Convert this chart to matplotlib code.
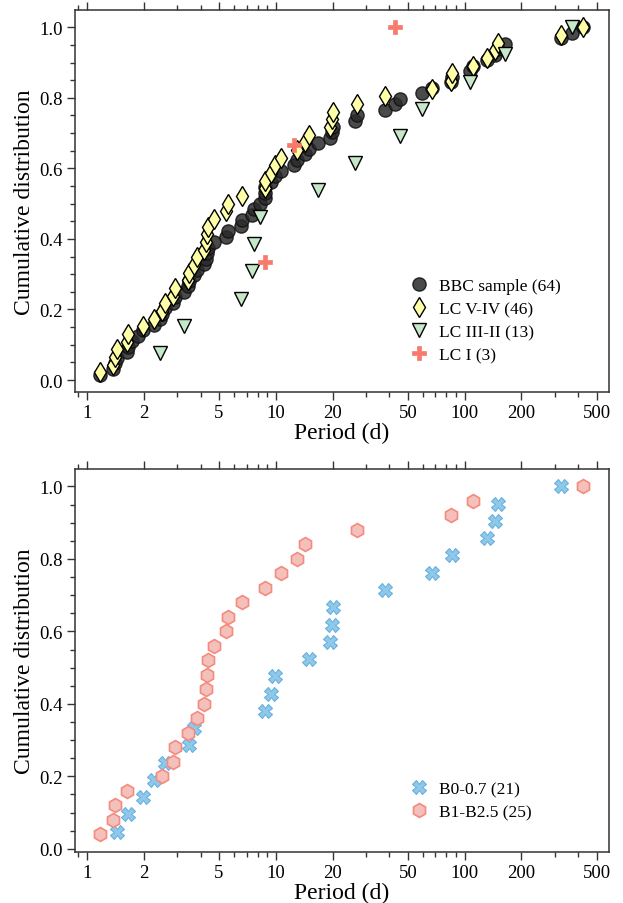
import matplotlib
matplotlib.use("Agg")
import matplotlib.pyplot as plt
from matplotlib.ticker import FixedLocator, LogLocator, MultipleLocator, NullFormatter, FuncFormatter

plt.rcParams['font.family'] = ['Liberation Serif', 'DejaVu Serif']

# periods (d)
bbc_periods = [1.166, 1.379, 1.406, 1.448, 1.629, 1.643, 1.72, 1.85, 1.967, 2.26,
               2.44, 2.50, 2.597, 2.853, 2.935, 3.25, 3.417, 3.48, 3.705, 3.843,
               4.172, 4.260, 4.292, 4.382, 4.70, 5.44, 5.60, 6.57, 6.62, 7.51,
               7.64, 8.29, 8.71, 8.74, 8.74, 9.45, 9.93, 10.63, 12.47, 12.89,
               14.34, 14.99, 16.8, 19.4, 19.87, 20.2, 26.3, 26.9, 38.0, 43.0,
               45.2, 59.7, 67.2, 85.2, 85.5, 107.0, 110.6, 131.3, 144.8, 151.0,
               163.8, 323.0, 371.0, 426.0]
lc_v_iv = [1.166, 1.379, 1.406, 1.448, 1.629, 1.643, 1.967, 2.26, 2.50, 2.597,
           2.853, 2.935, 3.417, 3.48, 3.705, 3.843, 4.172, 4.260, 4.292, 4.382,
           4.70, 5.44, 5.60, 6.62, 8.71, 8.74, 9.45, 9.93, 10.63, 12.89,
           14.34, 14.99, 19.4, 19.87, 20.2, 26.9, 38.0, 67.2, 85.2, 85.5,
           110.6, 131.3, 144.8, 151.0, 323.0, 426.0]
lc_iii_ii = [2.44, 3.25, 6.57, 7.51, 7.64, 8.29, 16.8, 26.3, 45.2, 59.7, 107.0, 163.8, 371.0]
lc_i = [8.74, 12.47, 43.0]

b0_07 = [1.448, 1.643, 1.967, 2.26, 2.597, 3.48, 3.705, 8.74, 9.45, 9.93, 14.99,
         19.4, 19.87, 20.2, 38.0, 67.2, 85.5, 131.3, 144.8, 151.0, 323.0]
b1_b25 = [1.166, 1.379, 1.406, 1.629, 2.50, 2.853, 2.935, 3.417, 3.843, 4.172,
          4.260, 4.292, 4.382, 4.70, 5.44, 5.60, 6.62, 8.71, 10.63, 12.89,
          14.34, 26.9, 85.2, 110.6, 426.0]


def cdf(p):
    # cumulative fraction k/N for sorted periods
    p = sorted(p)
    n = len(p)
    return p, [(i + 1) / n for i in range(n)]


def style_axes(ax):
    ax.set_xscale('log')
    ax.set_xlim(0.86, 580)
    ax.xaxis.set_major_locator(FixedLocator([1, 2, 5, 10, 20, 50, 100, 200, 500]))
    ax.xaxis.set_major_formatter(FuncFormatter(lambda v, pos: '%g' % v))
    ax.xaxis.set_minor_locator(LogLocator(base=10, subs=(3, 4, 6, 7, 8, 9)))
    ax.xaxis.set_minor_formatter(NullFormatter())
    ax.yaxis.set_major_locator(MultipleLocator(0.2))
    ax.yaxis.set_minor_locator(MultipleLocator(0.05))
    ax.yaxis.set_major_formatter(FuncFormatter(lambda v, pos: '%.1f' % v))
    ax.tick_params(which='both', direction='out', top=True, right=False, labelsize=13.5,
                   color='#333333')
    ax.tick_params(which='major', length=6, width=1, pad=2.5)
    ax.tick_params(which='minor', length=3.5, width=1)
    for s in ax.spines.values():
        s.set_color('#333333')
        s.set_linewidth(1.1)
    ax.set_xlabel('Period (d)', fontsize=17, labelpad=1)
    ax.set_ylabel('Cumulative distribution', fontsize=17, labelpad=3)


fig = plt.figure(figsize=(6.23, 9.04), dpi=100)
ax1 = fig.add_axes([0.12, 0.5654, 0.857, 0.4225])
ax2 = fig.add_axes([0.12, 0.0567, 0.857, 0.4233])

x, y = cdf(bbc_periods)
ax1.plot(x, y, 'o', ms=9.5, mfc='#2a2a2a', mec='#111111', alpha=0.85, label='BBC sample (64)')
x, y = cdf(lc_v_iv)
ax1.plot(x, y, 'd', ms=10.5, mfc='#ffffa8', mec='black', mew=1.0, label='LC V-IV (46)')
x, y = cdf(lc_iii_ii)
ax1.plot(x, y, 'v', ms=9.5, mfc='#c4e8c8', mec='black', mew=1.0, label='LC III-II (13)')
x, y = cdf(lc_i)
ax1.plot(x, y, 'P', ms=10, mfc='#f87a6c', mec='#f87a6c', mew=0.5, label='LC I (3)')
style_axes(ax1)
ax1.legend(loc='lower left', bbox_to_anchor=(0.583, 0.034), frameon=False, fontsize=12.5,
           handletextpad=0.15, labelspacing=0.4)

x, y = cdf(b0_07)
ax2.plot(x, y, 'X', ms=10, mfc='#8ec9ea', mec='#6ab0de', mew=0.8, label='B0-0.7 (21)')
x, y = cdf(b1_b25)
ax2.plot(x, y, 'h', ms=10, mfc='#f4c0bc', mec='#f58a7e', mew=1.2, label='B1-B2.5 (25)')
style_axes(ax2)
ax2.legend(loc='lower left', bbox_to_anchor=(0.583, 0.041), frameon=False, fontsize=12.5,
           handletextpad=0.15, labelspacing=0.4)

fig.savefig('out.png', dpi=100)
